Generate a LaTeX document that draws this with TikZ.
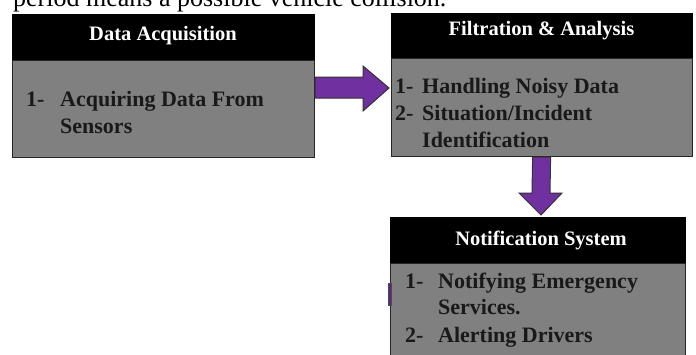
\documentclass[tikz,border=0pt]{standalone}
\usepackage{fontspec}
\setmainfont{Liberation Serif}
\usetikzlibrary{calc}
\definecolor{boxgray}{HTML}{808080}
\definecolor{arrowpurple}{HTML}{7030A0}
\begin{document}
\begin{tikzpicture}[x=1pt,y=-1pt,
  hdr/.style={draw=black, fill=black, line width=1pt, anchor=north west, inner sep=0},
  bdy/.style={draw=black!85, fill=boxgray, line width=1.2pt, anchor=north west, inner sep=0},
  htxt/.style={text=white, font=\bfseries\fontsize{20.5}{23}\selectfont, anchor=base, inner sep=0},
  btxt/.style={text=black!90, font=\bfseries\fontsize{22}{25}\selectfont, anchor=base west, inner sep=0},
  blockarrow/.style={fill=arrowpurple, draw=black!80, line width=1pt, line join=miter}]
\useasboundingbox (0,0) rectangle (696,354);
\clip (0,0) rectangle (696,354);
\fill[white] (0,0) rectangle (696,354);
% cut-off line of text at the top
\node[anchor=base west, inner sep=0, font=\fontsize{26}{30}\selectfont] (toptext) at (13,6.5) {period means a possible vehicle collision.};
% box 1
\node[hdr, minimum width=302pt, minimum height=46pt] (h1) at (12,14) {};
\node[bdy, minimum width=302pt, minimum height=97pt] (b1) at (12,60) {};
\node[htxt] (h1t) at (163,40) {Data Acquisition};
\node[btxt] (b1n1) at (26,106) {1-};
\node[btxt] (b1l1) at (60,106) {Acquiring Data From};
\node[btxt] (b1l2) at (60,133) {Sensors};
% box 2
\node[hdr, minimum width=301pt, minimum height=45pt] (h2) at (391,13) {};
\node[bdy, minimum width=301pt, minimum height=98pt] (b2) at (391,58) {};
\node[htxt] (h2t) at (541.5,35) {Filtration \& Analysis};
\node[btxt] (b2n1) at (395,93) {1-};
\node[btxt] (b2l1) at (422,93) {Handling Noisy Data};
\node[btxt] (b2n2) at (395,120) {2-};
\node[btxt] (b2l2) at (422,120) {Situation/Incident};
\node[btxt] (b2l3) at (422,147) {Identification};
% box 3
\node[hdr, minimum width=295pt, minimum height=46pt] (h3) at (390,217) {};
\node[bdy, minimum width=295pt, minimum height=110pt] (b3) at (390,263) {};
\node[htxt] (h3t) at (541,245) {Notification System};
\node[btxt] (b3n1) at (405,288) {1-};
\node[btxt] (b3l1) at (438,288) {Notifying Emergency};
\node[btxt] (b3l2) at (438,314) {Services.};
\node[btxt] (b3n2) at (405,342) {2-};
\node[btxt] (b3l3) at (438,342) {Alerting Drivers};
% block arrows
\draw[blockarrow] ($(b1.north east)+(0,17)$) -- (363,77) -- (363,66) -- (389,88) -- (363,111) -- (363,98) -- ($(b1.north east)+(0,38)$) -- cycle;
\draw[blockarrow] ($(b2.south)+(-9.5,0)$) -- (532,193) -- (519,193) -- (541,215) -- (562,193) -- (550,193) -- ($(b2.south)+(8.5,0)$) -- cycle;
% small stub at the left of box 3
\draw[fill=arrowpurple!80!black, draw=black!70, line width=0.6pt] (388,283) rectangle (391,305);
\end{tikzpicture}
\end{document}
